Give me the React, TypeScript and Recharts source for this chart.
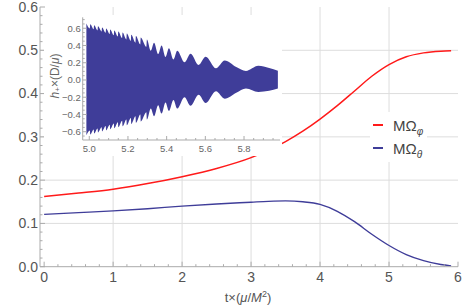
import React from "react";
import {
  ComposedChart,
  Line,
  Area,
  XAxis,
  YAxis,
  ReferenceLine,
  Legend,
} from "recharts";

// main panel: orbital frequencies vs time
const tMain = [0, 0.5, 1, 1.5, 2, 2.5, 3, 3.25, 3.5, 3.75, 4, 4.25, 4.5, 4.75, 5, 5.25, 5.5, 5.75, 5.9];
const omegaPhi = [0.162, 0.17, 0.179, 0.192, 0.208, 0.227, 0.252, 0.269, 0.289, 0.313, 0.341, 0.372, 0.406, 0.44, 0.467, 0.485, 0.494, 0.498, 0.499];
const omegaTheta = [0.121, 0.125, 0.129, 0.134, 0.14, 0.145, 0.149, 0.151, 0.152, 0.15, 0.144, 0.128, 0.104, 0.075, 0.049, 0.028, 0.014, 0.005, 0.002];

// inset: envelope of the waveform h+ (upper / lower edge of the dense oscillation)
const tWave = [
  4.985, 5.003, 5.005, 5.023, 5.025, 5.043, 5.045, 5.064, 5.066, 5.085, 5.087, 5.106,
  5.108, 5.127, 5.129, 5.148, 5.15, 5.17, 5.172, 5.192, 5.194, 5.215, 5.217, 5.239,
  5.241, 5.264, 5.266, 5.295, 5.298, 5.318, 5.335, 5.356, 5.374, 5.394, 5.412, 5.435,
  5.455, 5.492, 5.524, 5.565, 5.602, 5.655, 5.7, 5.76, 5.81, 5.874, 5.93, 5.975,
];
const hWaveHi = [
  0.655, 0.598, 0.645, 0.588, 0.634, 0.575, 0.622, 0.562, 0.61, 0.548, 0.598, 0.533,
  0.586, 0.518, 0.574, 0.503, 0.562, 0.487, 0.55, 0.47, 0.538, 0.452, 0.525, 0.433,
  0.51, 0.412, 0.493, 0.385, 0.47, 0.34, 0.432, 0.3, 0.4, 0.268, 0.368, 0.238,
  0.338, 0.205, 0.305, 0.175, 0.27, 0.135, 0.225, 0.15, 0.105, 0.165, 0.14, 0.108,
];
const hWaveLo = [
  -0.64, -0.585, -0.632, -0.575, -0.62, -0.562, -0.608, -0.548, -0.596, -0.535, -0.585, -0.52,
  -0.572, -0.505, -0.56, -0.49, -0.548, -0.474, -0.536, -0.457, -0.524, -0.44, -0.511, -0.421,
  -0.497, -0.4, -0.48, -0.373, -0.458, -0.33, -0.42, -0.292, -0.39, -0.262, -0.36, -0.232,
  -0.332, -0.2, -0.3, -0.172, -0.268, -0.132, -0.218, -0.148, -0.098, -0.138, -0.125, -0.098,
];

// ticks
const xMajor = [0, 1, 2, 3, 4, 5, 6];
const xTicks = [0, 0.2, 0.4, 0.6, 0.8, 1, 1.2, 1.4, 1.6, 1.8, 2, 2.2, 2.4, 2.6, 2.8, 3, 3.2, 3.4, 3.6, 3.8, 4, 4.2, 4.4, 4.6, 4.8, 5, 5.2, 5.4, 5.6, 5.8, 6];
const yMajor = [0, 0.1, 0.2, 0.3, 0.4, 0.5, 0.6];
const yTicks = [0, 0.02, 0.04, 0.06, 0.08, 0.1, 0.12, 0.14, 0.16, 0.18, 0.2, 0.22, 0.24, 0.26, 0.28, 0.3, 0.32, 0.34, 0.36, 0.38, 0.4, 0.42, 0.44, 0.46, 0.48, 0.5, 0.52, 0.54, 0.56, 0.58, 0.6];
const gridX = [1, 2, 3, 4, 5];
const gridY = [0.1, 0.2, 0.3, 0.4, 0.5];

const insetXMajor = [5.0, 5.2, 5.4, 5.6, 5.8];
const insetXTicks = [5.0, 5.05, 5.1, 5.15, 5.2, 5.25, 5.3, 5.35, 5.4, 5.45, 5.5, 5.55, 5.6, 5.65, 5.7, 5.75, 5.8, 5.85, 5.9, 5.95];
const insetYMajor = [-0.6, -0.4, -0.2, 0, 0.2, 0.4, 0.6];
const insetYTicks = [-0.65, -0.6, -0.55, -0.5, -0.45, -0.4, -0.35, -0.3, -0.25, -0.2, -0.15, -0.1, -0.05, 0, 0.05, 0.1, 0.15, 0.2, 0.25, 0.3, 0.35, 0.4, 0.45, 0.5, 0.55, 0.6, 0.65, 0.7];

const legendOrder = ["phi", "theta"];

const mainData = tMain.map((t, i) => ({ t, phi: omegaPhi[i], theta: omegaTheta[i] }));
const waveData = tWave.map((t, i) => ({ t, band: [hWaveLo[i], hWaveHi[i]] }));

const FONT = "'Liberation Sans', Arial, sans-serif";
const FRAME = "#ababab";
const GRID = "#dddddd";
const LABEL = "#555555";
const RED = "#ff1a1a";
const BLUE = "#3f3d99";

const fmt1 = (v: number) => {
  const s = Math.abs(v).toFixed(1);
  return v < -1e-9 ? "\u2212" + s : s;
};

// ticks drawn inward on the frame, label only on major ticks
function frameTick(
  side: string,
  margin: number,
  majors: number[],
  len: number,
  minorLen: number,
  label?: { size: number; fmt: (v: number) => string; color: string }
) {
  return (p: any) => {
    const v = p.payload.value;
    const major = majors.some((m) => Math.abs(m - v) < 1e-6);
    const l = major ? len : minorLen;
    let ax = p.x;
    let ay = p.y;
    let dx = 0;
    let dy = 0;
    if (side === "left") {
      ax = p.x + margin;
      dx = l;
    } else if (side === "right") {
      ax = p.x - margin;
      dx = -l;
    } else if (side === "bottom") {
      ay = p.y - margin;
      dy = -l;
    } else {
      ay = p.y + margin;
      dy = l;
    }
    let txt = null;
    if (label && major) {
      txt =
        side === "left" ? (
          <text x={p.x} y={p.y} dy={label.size * 0.35} textAnchor="end" fontSize={label.size} fontFamily={FONT} fill={label.color}>
            {label.fmt(v)}
          </text>
        ) : (
          <text x={p.x} y={p.y} dy={label.size * 0.72} textAnchor="middle" fontSize={label.size} fontFamily={FONT} fill={label.color}>
            {label.fmt(v)}
          </text>
        );
    }
    return (
      <g>
        <line x1={ax} y1={ay} x2={ax + dx} y2={ay + dy} stroke={FRAME} strokeWidth={1} />
        {txt}
      </g>
    );
  };
}

const xTitle = (p: any) => {
  const vb = p.viewBox || {};
  const cx = (vb.x || 0) + (vb.width || 0) / 2 - 1;
  const y = (vb.y || 0) + 35.5;
  return (
    <text x={cx} y={y} textAnchor="middle" fontSize={13} fontFamily={FONT} fill={LABEL}>
      <tspan>t×(</tspan>
      <tspan fontStyle="italic">μ</tspan>
      <tspan>/</tspan>
      <tspan fontStyle="italic">M</tspan>
      <tspan fontSize={9} dy={-5}>2</tspan>
      <tspan dy={5}>)</tspan>
    </text>
  );
};

const insetYTitle = () => {
  const cx = 10.5;
  const cy = 61;
  return (
    <text x={cx} y={cy} transform={`rotate(-90, ${cx}, ${cy})`} textAnchor="middle" dominantBaseline="central" fontSize={12} fontFamily={FONT} fill="#666">
      <tspan fontStyle="italic">h</tspan>
      <tspan fontSize={8} dy={2}>+</tspan>
      <tspan dy={-2}>×(D/</tspan>
      <tspan fontStyle="italic">μ</tspan>
      <tspan>)</tspan>
    </text>
  );
};

const renderLegend = (props: any) => {
  const items = [...(props.payload || [])].sort(
    (a: any, b: any) => legendOrder.indexOf(String(a.dataKey)) - legendOrder.indexOf(String(b.dataKey))
  );
  return (
    <div style={{ background: "#fff", width: 57, height: 50, paddingTop: 1.5, boxSizing: "border-box", fontFamily: FONT }}>
      {items.map((e: any) => {
        const [base, sub] = String(e.value).split("_");
        return (
          <div key={e.value} style={{ display: "flex", alignItems: "center", height: 23 }}>
            <span style={{ display: "inline-block", width: 10, height: 1.5, background: e.color, marginLeft: 3, marginRight: 10 }} />
            <span style={{ fontSize: 15, color: "#444", whiteSpace: "nowrap" }}>
              {base}
              <span style={{ fontSize: 10, fontStyle: "italic", position: "relative", top: 4 }}>{sub}</span>
            </span>
          </div>
        );
      })}
    </div>
  );
};

export default function App() {
  const xDom: [number, number] = [-0.06, 6];
  const yDom: [number, number] = [0, 0.6];
  const ixDom: [number, number] = [4.966, 5.986];
  const iyDom: [number, number] = [-0.696, 0.727];
  const axisCommon = {
    type: "number" as const,
    allowDataOverflow: true,
    interval: 0 as const,
    tickSize: 0,
    tickLine: false,
    axisLine: { stroke: FRAME },
  };

  return (
    <div style={{ position: "absolute", left: 0, top: 0, width: 463, height: 306, background: "#fff" }}>
      <ComposedChart width={463} height={306} data={mainData} margin={{ top: 7, right: 5, bottom: 0, left: 0 }}>
        <XAxis
          {...axisCommon}
          dataKey="t"
          domain={xDom}
          ticks={xTicks}
          height={39.3}
          tickMargin={5}
          tick={frameTick("bottom", 5, xMajor, 5, 2.5, { size: 14, fmt: (v) => String(Math.round(v)), color: LABEL })}
          label={xTitle}
        />
        <XAxis {...axisCommon} xAxisId="top" orientation="top" domain={xDom} ticks={xTicks} height={0} tickMargin={0} tick={frameTick("top", 0, xMajor, 5, 2.5)} />
        <YAxis
          {...axisCommon}
          domain={yDom}
          ticks={yTicks}
          width={40}
          tickMargin={2}
          tick={frameTick("left", 2, yMajor, 5, 2.5, { size: 14, fmt: (v) => v.toFixed(1), color: LABEL })}
        />
        <YAxis {...axisCommon} yAxisId="right" orientation="right" domain={yDom} ticks={yTicks} width={0} tickMargin={0} tick={frameTick("right", 0, yMajor, 5, 2.5)} />
        {gridX.map((v) => (
          <ReferenceLine key={"gx" + v} x={v} stroke={GRID} strokeWidth={1} />
        ))}
        {gridY.map((v) => (
          <ReferenceLine key={"gy" + v} y={v} stroke={GRID} strokeWidth={1} />
        ))}
        <Line type="monotone" dataKey="phi" name="MΩ_φ" stroke={RED} strokeWidth={1.5} dot={false} isAnimationActive={false} />
        <Line type="monotone" dataKey="theta" name="MΩ_θ" stroke={BLUE} strokeWidth={1.4} dot={false} isAnimationActive={false} />
        <Legend
          layout="vertical"
          align="center"
          verticalAlign="middle"
          content={renderLegend}
          wrapperStyle={{ left: 370, top: 112, width: 57, height: 50 }}
        />
      </ComposedChart>

      <div style={{ position: "absolute", left: 44, top: 15, width: 238, height: 141, background: "#fff" }}>
        <ComposedChart width={238} height={141} data={waveData} margin={{ top: 2.3, right: 2, bottom: 0, left: 0 }}>
          <XAxis
            {...axisCommon}
            dataKey="t"
            domain={ixDom}
            ticks={insetXTicks}
            height={16}
            tickMargin={5}
            tick={frameTick("bottom", 5, insetXMajor, 4, 2, { size: 9.5, fmt: fmt1, color: "#666" })}
          />
          <XAxis {...axisCommon} xAxisId="top" orientation="top" domain={ixDom} ticks={insetXTicks} height={0} tickMargin={0} tick={frameTick("top", 0, insetXMajor, 4, 2)} />
          <YAxis
            {...axisCommon}
            domain={iyDom}
            ticks={insetYTicks}
            width={38.7}
            tickMargin={2}
            tick={frameTick("left", 2, insetYMajor, 4, 2, { size: 9.5, fmt: fmt1, color: "#666" })}
            label={insetYTitle}
          />
          <YAxis {...axisCommon} yAxisId="right" orientation="right" domain={iyDom} ticks={insetYTicks} width={0} tickMargin={0} tick={frameTick("right", 0, insetYMajor, 4, 2)} />
          <Area type="monotone" dataKey="band" stroke="none" fill={BLUE} fillOpacity={1} isAnimationActive={false} />
        </ComposedChart>
      </div>
    </div>
  );
}
